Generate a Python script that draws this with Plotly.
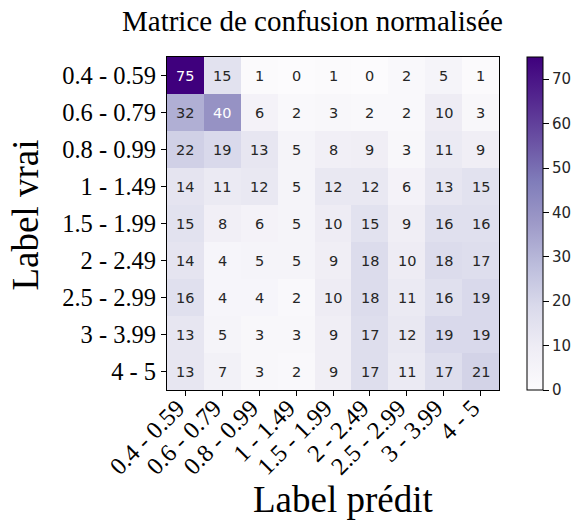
import plotly.graph_objects as go

labels = ["0.4 - 0.59", "0.6 - 0.79", "0.8 - 0.99", "1 - 1.49", "1.5 - 1.99",
          "2 - 2.49", "2.5 - 2.99", "3 - 3.99", "4 - 5"]

row_04 = [75, 15, 1, 0, 1, 0, 2, 5, 1]
row_06 = [32, 40, 6, 2, 3, 2, 2, 10, 3]
row_08 = [22, 19, 13, 5, 8, 9, 3, 11, 9]
row_1 = [14, 11, 12, 5, 12, 12, 6, 13, 15]
row_15 = [15, 8, 6, 5, 10, 15, 9, 16, 16]
row_2 = [14, 4, 5, 5, 9, 18, 10, 18, 17]
row_25 = [16, 4, 4, 2, 10, 18, 11, 16, 19]
row_3 = [13, 5, 3, 3, 9, 17, 12, 19, 19]
row_4 = [13, 7, 3, 2, 9, 17, 11, 17, 21]

z = [row_04, row_06, row_08, row_1, row_15, row_2, row_25, row_3, row_4]
zmax = max(max(r) for r in z)

W, H = 577, 526
L, R, T, B = 167, 499, 57, 390  # plot area in pixels
PW, PH = R - L, B - T


def px_x(px):
    return (px - L) / PW


def px_y(py):
    return (B - py) / PH


fig = go.Figure()
fig.add_trace(go.Heatmap(
    z=z, x=labels, y=labels,
    colorscale="Purples", zmin=0, zmax=zmax,
    colorbar=dict(
        x=px_x(527), xanchor="left", xref="paper",
        y=0.5, yanchor="middle", len=1.0, lenmode="fraction",
        thickness=16, thicknessmode="pixels", xpad=0, ypad=0,
        outlinewidth=1, outlinecolor="black",
        ticks="outside", ticklen=6, tickwidth=1, tickcolor="black",
        tickvals=[0, 10, 20, 30, 40, 50, 60, 70],
        tickfont=dict(family="DejaVu Sans", size=15, color="#262626"),
    ),
    hoverinfo="skip",
))

thresh = zmax / 2.0
for i, row in enumerate(z):
    for j, v in enumerate(row):
        fig.add_annotation(
            x=labels[j], y=labels[i], text=str(v), showarrow=False,
            font=dict(family="DejaVu Sans", size=14.5,
                      color="white" if v > thresh else "#262626"),
        )

serif = "Liberation Serif"
fig.add_annotation(
    text="Matrice de confusion normalisée", showarrow=False,
    xref="paper", yref="paper", x=px_x(312.5), y=px_y(21),
    xanchor="center", yanchor="middle",
    font=dict(family=serif, size=29, color="black"),
)
fig.add_annotation(
    text="Label prédit", showarrow=False,
    xref="paper", yref="paper", x=px_x(342.5), y=px_y(500),
    xanchor="center", yanchor="middle",
    font=dict(family=serif, size=37, color="black"),
)
fig.add_annotation(
    text="Label vrai", showarrow=False, textangle=-90,
    xref="paper", yref="paper", x=px_x(25), y=px_y(215.5),
    xanchor="center", yanchor="middle",
    font=dict(family=serif, size=37, color="black"),
)

fig.update_layout(
    width=W, height=H,
    margin=dict(l=L, r=W - R, t=T, b=H - B, pad=0, autoexpand=False),
    paper_bgcolor="white", plot_bgcolor="white",
    showlegend=False,
)
fig.update_xaxes(
    type="category", tickangle=-45, ticks="outside", ticklen=5, tickwidth=1,
    tickcolor="black", showline=True, linecolor="black", linewidth=1, mirror=True,
    tickfont=dict(family=serif, size=24.5, color="black"),
    ticklabelstandoff=-12, ticklabelshift=-8,
    showgrid=False, zeroline=False,
)
fig.update_yaxes(
    type="category", autorange="reversed", ticks="outside", ticklen=5, tickwidth=1,
    tickcolor="black", showline=True, linecolor="black", linewidth=1, mirror=True,
    tickfont=dict(family=serif, size=24.5, color="black"),
    showgrid=False, zeroline=False,
)

fig.write_html(
    "out.html",
    config={"displayModeBar": False},
    post_script="document.body.style.margin='0';document.body.style.padding='0';",
)
